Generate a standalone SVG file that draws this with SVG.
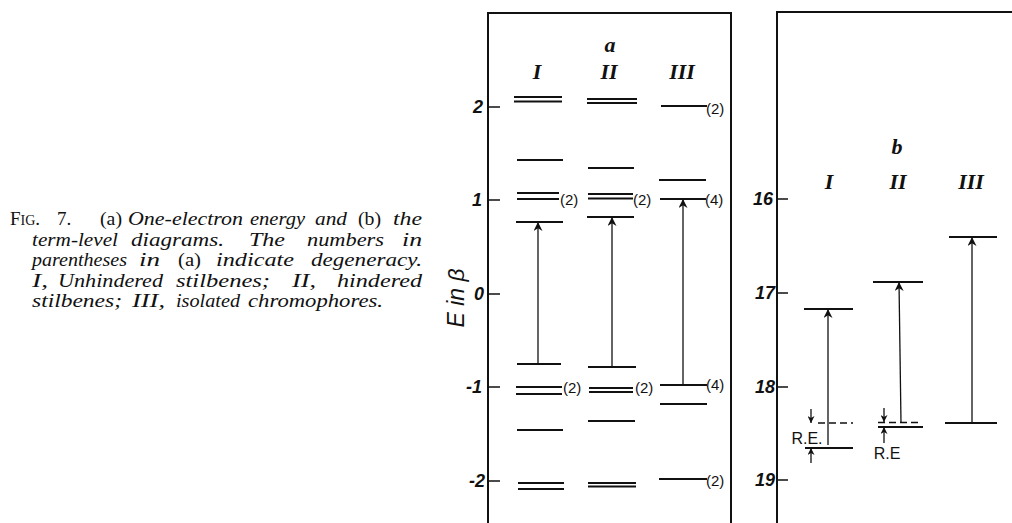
<svg xmlns="http://www.w3.org/2000/svg" width="1012" height="523" viewBox="0 0 1012 523">
<style>
.cap{font-family:"Liberation Serif","Times New Roman",serif;font-size:19px;fill:#111;font-style:italic}
.up{font-style:normal}
.sc{font-style:normal;font-size:14px}
.hd{font-family:"Liberation Serif","Times New Roman",serif;font-style:italic;font-weight:bold;font-size:22px;fill:#111;text-anchor:middle}
.num{font-family:"Liberation Sans",Arial,sans-serif;font-style:italic;font-weight:bold;font-size:18px;fill:#111;text-anchor:end}
.deg{font-family:"Liberation Sans",Arial,sans-serif;font-size:15px;fill:#111}
.re{font-family:"Liberation Sans",Arial,sans-serif;font-size:16px;fill:#111;text-anchor:middle}
.frame{fill:none;stroke:#111;stroke-width:2}
.lvl{stroke:#111;stroke-width:1.8;fill:none}
.dash{stroke:#111;stroke-width:1.6;stroke-dasharray:7 4;fill:none}
.tick{stroke:#111;stroke-width:1.6}
.arr{stroke:#111;stroke-width:1.3;fill:none;marker-end:url(#ah)}
.sarr{stroke:#111;stroke-width:1.3;fill:none;marker-end:url(#ahs)}
</style>
<defs>
<marker id="ah" viewBox="0 0 10 10" refX="10" refY="5" markerWidth="9" markerHeight="9" markerUnits="userSpaceOnUse" orient="auto"><path d="M0,0 L10,5 L0,10 L3,5 Z" fill="#111"/></marker>
<marker id="ahs" viewBox="0 0 10 10" refX="10" refY="5" markerWidth="7" markerHeight="7" markerUnits="userSpaceOnUse" orient="auto"><path d="M0,0 L10,5 L0,10 L3,5 Z" fill="#111"/></marker>
</defs>
<rect width="1012" height="523" fill="#fff"/>

<g id="caption" class="cap">
<text y="225"><tspan x="10" class="up">F<tspan class="sc">IG</tspan>.</tspan><tspan x="57" class="up">7.</tspan><tspan x="100" class="up" textLength="22" lengthAdjust="spacingAndGlyphs">(a)</tspan><tspan x="128" textLength="115" lengthAdjust="spacingAndGlyphs">One-electron</tspan><tspan x="250" textLength="55" lengthAdjust="spacingAndGlyphs">energy</tspan><tspan x="315" textLength="32" lengthAdjust="spacingAndGlyphs">and</tspan><tspan x="358" class="up" textLength="23" lengthAdjust="spacingAndGlyphs">(b)</tspan><tspan x="393" textLength="29" lengthAdjust="spacingAndGlyphs">the</tspan></text>
<text y="245.5"><tspan x="32" textLength="86" lengthAdjust="spacingAndGlyphs">term-level</tspan><tspan x="131" textLength="93" lengthAdjust="spacingAndGlyphs">diagrams.</tspan><tspan x="249" textLength="36" lengthAdjust="spacingAndGlyphs">The</tspan><tspan x="307" textLength="77" lengthAdjust="spacingAndGlyphs">numbers</tspan><tspan x="402" textLength="20" lengthAdjust="spacingAndGlyphs">in</tspan></text>
<text y="266"><tspan x="32" textLength="95" lengthAdjust="spacingAndGlyphs">parentheses</tspan><tspan x="139" textLength="21" lengthAdjust="spacingAndGlyphs">in</tspan><tspan x="178" class="up" textLength="23" lengthAdjust="spacingAndGlyphs">(a)</tspan><tspan x="216" textLength="78" lengthAdjust="spacingAndGlyphs">indicate</tspan><tspan x="311" textLength="111" lengthAdjust="spacingAndGlyphs">degeneracy.</tspan></text>
<text y="286.5"><tspan x="32" textLength="16" lengthAdjust="spacingAndGlyphs">I,</tspan><tspan x="58" textLength="105" lengthAdjust="spacingAndGlyphs">Unhindered</tspan><tspan x="176" textLength="94" lengthAdjust="spacingAndGlyphs">stilbenes;</tspan><tspan x="292" textLength="24" lengthAdjust="spacingAndGlyphs">II,</tspan><tspan x="337" textLength="85" lengthAdjust="spacingAndGlyphs">hindered</tspan></text>
<text y="307"><tspan x="32" textLength="90" lengthAdjust="spacingAndGlyphs">stilbenes;</tspan><tspan x="132" textLength="33" lengthAdjust="spacingAndGlyphs">III,</tspan><tspan x="176" textLength="64" lengthAdjust="spacingAndGlyphs">isolated</tspan><tspan x="248" textLength="135" lengthAdjust="spacingAndGlyphs">chromophores.</tspan></text>
</g>

<g id="panel-a-axis">
<path class="frame" d="M488,523 V13 H731 V523"/>
<path class="tick" d="M488,107 H500 M488,200 H500 M488,294 H500 M488,387 H500 M488,481 H500"/>
<text class="num" x="483" y="113">2</text>
<text class="num" x="482" y="206">1</text>
<text class="num" x="484" y="300">0</text>
<text class="num" x="482" y="393">-1</text>
<text class="num" x="485" y="487">-2</text>
<text x="464" y="298" transform="rotate(-90 464 298)" style="font-family:'Liberation Sans',Arial,sans-serif;font-style:italic;font-size:23px;fill:#111;text-anchor:middle">E in β</text>
<text class="hd" x="610" y="52">a</text>
</g>

<g id="col-a-I">
<text class="hd" x="537" y="79">I</text>
<path class="lvl" d="M514,97 H562 M514,101.5 H562 M517,160 H563 M517,193 H559 M517,199 H559 M516,222 H563 M517,364 H561 M516,387 H562 M516,394 H562 M517,430 H563 M518,483 H564 M518,489 H564"/>
<text class="deg" x="560" y="205">(2)</text>
<text class="deg" x="563" y="393">(2)</text>
</g>

<g id="col-a-II">
<text class="hd" x="609" y="79">II</text>
<path class="lvl" d="M587,99 H637 M587,103 H637 M588,168 H634 M588,194 H633 M588,198.5 H633 M587,217 H634 M588,367 H636 M589,388 H633 M589,392 H633 M588,421 H635 M588,483 H636 M588,486.5 H636"/>
<text class="deg" x="633" y="205">(2)</text>
<text class="deg" x="635" y="393">(2)</text>
</g>

<g id="col-a-III">
<text class="hd" x="682" y="79">III</text>
<path class="lvl" d="M661,106 H707 M659,180 H706 M660,199 H706 M660,385 H707 M660,404 H707 M659,479 H707"/>
<text class="deg" x="706" y="114">(2)</text>
<text class="deg" x="705" y="205">(4)</text>
<text class="deg" x="706" y="390">(4)</text>
<text class="deg" x="706" y="486">(2)</text>
</g>

<g id="panel-b-axis">
<path class="frame" d="M777,523 V12 H1012"/>
<path class="tick" d="M777,199 H788 M777,293 H788 M777,387 H788 M777,480 H788"/>
<text class="num" x="773" y="205">16</text>
<text class="num" x="775" y="299">17</text>
<text class="num" x="775" y="393">18</text>
<text class="num" x="775" y="486">19</text>
<text class="hd" x="897" y="154">b</text>
</g>

<g id="col-b-I">
<text class="hd" x="829" y="189">I</text>
<path class="lvl" d="M804,309 H853 M805,448 H853"/>
<path class="dash" d="M818,423 H853"/>
<text class="re" x="807" y="444">R.E.</text>
</g>

<g id="col-b-II">
<text class="hd" x="898" y="189">II</text>
<path class="lvl" d="M873,282 H923 M878,427 H923"/>
<path class="dash" d="M878,422.5 H920"/>
<text class="re" x="887" y="459">R.E</text>
</g>

<g id="col-b-III">
<text class="hd" x="971" y="189">III</text>
<path class="lvl" d="M949,237 H997 M945,423 H997"/>
</g>

<g id="connectors">
<path class="arr" d="M538,364 V222"/>
<path class="arr" d="M612,367 V217"/>
<path class="arr" d="M683,385 V199"/>
<path class="arr" d="M828,445 V309"/>
<path class="arr" d="M901,423 L899,282"/>
<path class="arr" d="M972,423 V237"/>
<path class="sarr" d="M811,409 V423"/>
<path class="sarr" d="M811,463 V448"/>
<path class="sarr" d="M884,408 V422"/>
<path class="sarr" d="M884,443 V427"/>
</g>
</svg>
